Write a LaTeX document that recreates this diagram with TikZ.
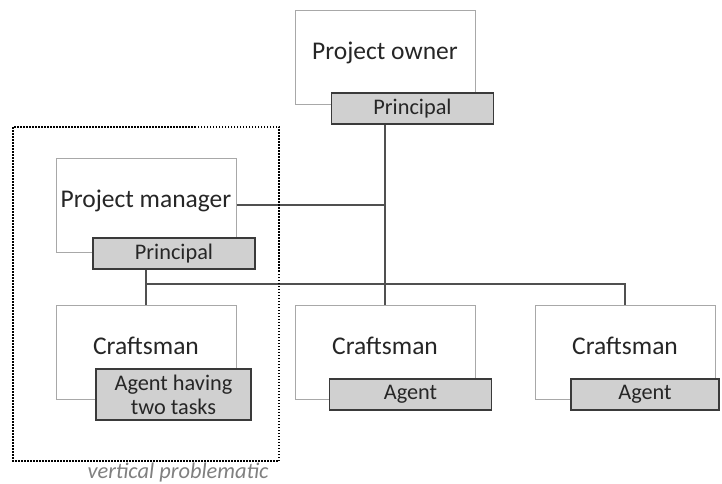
\documentclass[tikz,border=0pt]{standalone}
\usepackage{fontspec}
\setmainfont{Carlito}
\usepackage{tikz}
\usetikzlibrary{positioning}
\definecolor{roleline}{RGB}{168,168,168}
\definecolor{tagfill}{RGB}{208,208,208}
\definecolor{tagline}{RGB}{58,58,58}
\definecolor{wire}{RGB}{80,80,80}
\definecolor{inktext}{RGB}{38,38,38}
\definecolor{notegray}{RGB}{128,128,128}

\begin{document}
\begin{tikzpicture}[x=1pt, y=-1pt,
  every node/.style={text=inktext},
  role/.style={draw=roleline, line width=1pt, fill=white, minimum width=180pt,
               minimum height=94pt, inner sep=0pt, text height=18pt, text depth=14pt,
               font=\fontsize{25.5}{30}\selectfont},
  tag/.style={draw=tagline, line width=1.2pt, fill=tagfill, minimum width=162pt,
              minimum height=31pt, inner sep=0pt, align=center,
              font=\fontsize{22.3}{24}\selectfont},
  conn/.style={draw=wire, line width=1.6pt},
  frame/.style={draw=black, line width=2pt, dash pattern=on 1.5pt off 1.5pt}
]
\useasboundingbox (0,0) rectangle (722,484);
% owner on top
\node[role] (owner)    at (385,58)  {Project owner};
\node[tag]  (ownertag) at (412.5,108.5) {Principal};
% manager, inside the frame
\node[role] (manager)    at (146,205) {Project manager};
\node[tag]  (managertag) at (174,253.5) {Principal};
% craftsmen
\node[role] (craft1) at (146,352.5) {Craftsman};
\node[role] (craft2) at (385,352.5) {Craftsman};
\node[role] (craft3) at (625,352.5) {Craftsman};
\node[tag, minimum width=155pt, minimum height=51pt] (craft1tag) at (173.5,394.5)
  {Agent having\\two tasks};
\node[tag] (craft2tag) at (410.5,394.5) {Agent};
\node[tag, minimum width=148pt] (craft3tag) at (645,394.5) {Agent};
\coordinate (bus) at (385,284);
\draw[conn] (ownertag.south -| craft2.north) -- (craft2.north);
\draw[conn] (manager.east) -- (manager.east -| craft2.north);
\draw[conn] (managertag.south -| craft1.north) -- (craft1.north);
\draw[conn] (craft1.north |- bus) -- (craft3.north |- bus) -- (craft3.north);
% the vertical problematic
\draw[frame] (13,127) rectangle (279,461);
\node[text=notegray, inner sep=0pt, font=\fontsize{22.4}{26}\selectfont\itshape] (note)
  at (178,473) {vertical problematic};
\end{tikzpicture}
\end{document}
